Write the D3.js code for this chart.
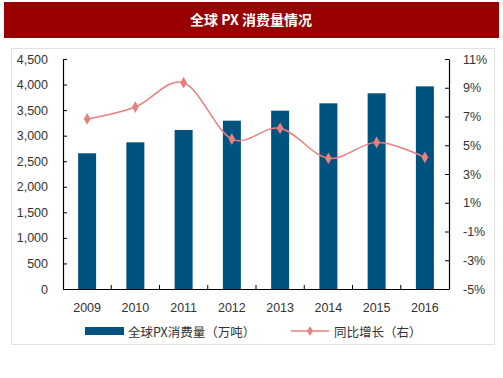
<!DOCTYPE html>
<html><head><meta charset="utf-8">
<script src="https://cdn.jsdelivr.net/npm/d3@7"></script>
<style>body{margin:0;background:#fff;}svg{display:block;}</style>
</head><body>
<script>
const years = ["2009","2010","2011","2012","2013","2014","2015","2016"];
const consumption = [2655, 2870, 3111, 3293, 3489, 3633, 3829, 3965];
const growth = [6.83, 7.66, 9.35, 5.43, 6.18, 4.09, 5.2, 4.16];
const leftTicks = [0,500,1000,1500,2000,2500,3000,3500,4000,4500];
const rightTicks = [-5,-3,-1,1,3,5,7,9,11];
const title = "全球 PX 消费量情况";
const legendBar = "全球PX消费量（万吨）";
const legendLine = "同比增长（右）";

const W=503,H=378;
const svg=d3.select("body").append("svg").attr("width",W).attr("height",H);
svg.append("rect").attr("x",4).attr("y",2).attr("width",495).attr("height",36).attr("fill","#990000");
svg.append("text").attr("x",251).attr("y",25).attr("text-anchor","middle").attr("fill","#fff")
  .attr("font-family","'Noto Sans CJK SC'").attr("font-weight","bold").attr("font-size",14).text(title);
svg.append("rect").attr("x",11.5).attr("y",48.5).attr("width",483).attr("height",296).attr("fill","none").attr("stroke","#e2e2e2");

const L=63,R=449,T=59,B=289;
const x=d3.scaleBand().domain(years).range([L,R]);
const y=d3.scaleLinear().domain([0,4500]).range([B,T]);
const y2=d3.scaleLinear().domain([-5,11]).range([B,T]);
const font="Arial, 'Liberation Sans', sans-serif";

svg.append("g").selectAll("rect").data(years).join("rect")
  .attr("x",d=>x(d)+x.bandwidth()/2-9).attr("width",18)
  .attr("y",(d,i)=>y(consumption[i])).attr("height",(d,i)=>B-y(consumption[i]))
  .attr("fill","#00527f");

const ga=svg.append("g").attr("transform",`translate(${L},0)`)
  .call(d3.axisLeft(y).tickValues(leftTicks).tickSizeInner(-4).tickSizeOuter(0).tickPadding(15).tickFormat(d3.format(",")));
const gb=svg.append("g").attr("transform",`translate(${R},0)`)
  .call(d3.axisRight(y2).tickValues(rightTicks).tickSizeInner(-4).tickSizeOuter(0).tickPadding(14).tickFormat(d=>d+"%"));
const gx=svg.append("g").attr("transform",`translate(0,${B})`)
  .call(d3.axisBottom(x).tickSize(0).tickPadding(14));
// boundary ticks
svg.append("g").selectAll("line").data(years.slice(1)).join("line")
  .attr("x1",d=>x(d)).attr("x2",d=>x(d)).attr("y1",B).attr("y2",B-4).attr("stroke","#000");
[ga,gb,gx].forEach(g=>{
  g.selectAll("path,line").attr("stroke","#000");
  g.selectAll("text").attr("font-family",font).attr("font-size",12.5).attr("fill","#333");
  g.select(".domain").attr("stroke-width",1.2);
});

const pts=years.map((d,i)=>[x(d)+x.bandwidth()/2,y2(growth[i])]);
svg.append("path").attr("d",d3.line().curve(d3.curveCardinal.tension(0))(pts))
  .attr("fill","none").attr("stroke","#e8807f").attr("stroke-width",1.5);
svg.append("g").selectAll("path").data(pts).join("path")
  .attr("transform",d=>`translate(${d[0]},${d[1]})`)
  .attr("d",d3.symbol(d3.symbolDiamond,40)).attr("fill","#e8807f");

// legend
svg.append("rect").attr("x",85).attr("y",327).attr("width",39).attr("height",8).attr("fill","#00527f");
svg.append("text").attr("x",128).attr("y",337).attr("font-family","'Noto Sans CJK SC'").attr("font-size",12.5).attr("fill","#333").text(legendBar);
svg.append("line").attr("x1",291).attr("x2",329).attr("y1",331).attr("y2",331).attr("stroke","#e8807f").attr("stroke-width",1.5);
svg.append("path").attr("transform","translate(310,331)").attr("d",d3.symbol(d3.symbolDiamond,30)).attr("fill","#e8807f");
svg.append("text").attr("x",334).attr("y",337).attr("font-family","'Noto Sans CJK SC'").attr("font-size",12.5).attr("fill","#333").text(legendLine);
</script>
</body></html>
